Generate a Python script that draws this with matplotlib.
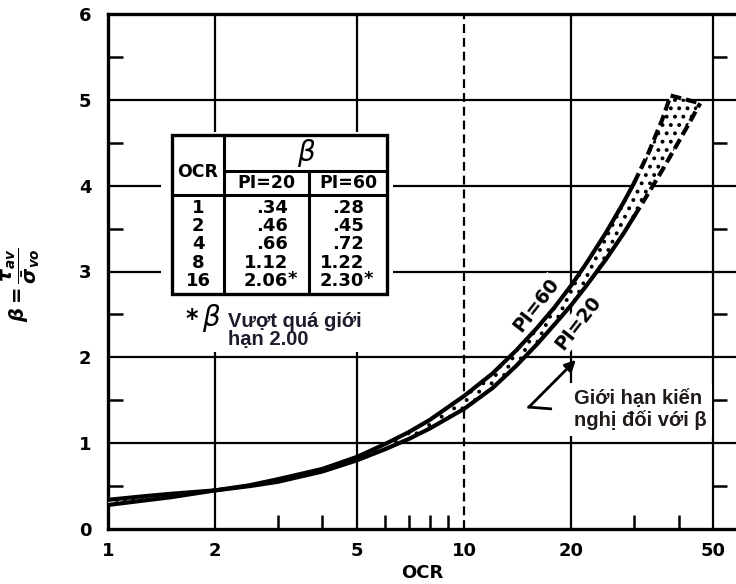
import numpy as np
import matplotlib
matplotlib.use("Agg")
import matplotlib.pyplot as plt
from matplotlib.patches import Rectangle
from matplotlib.ticker import FixedLocator, FixedFormatter, NullFormatter

# ---- curve readings: cyclic stress ratio beta versus OCR ----
ocr_pi60 = [1, 1.25, 1.5, 2, 2.5, 3, 4, 5, 6, 7, 8, 10, 12, 14, 16, 18, 20,
            22, 25, 28, 30, 33, 36, 38]
beta_pi60 = [0.28, 0.33, 0.37, 0.45, 0.51, 0.58, 0.70, 0.84, 0.99, 1.13, 1.27,
             1.55, 1.81, 2.08, 2.34, 2.59, 2.84, 3.09, 3.45, 3.80, 4.03, 4.39,
             4.77, 5.05]
ocr_pi20 = [1, 1.25, 1.5, 2, 2.5, 3, 4, 5, 6, 7, 8, 10, 12, 14, 16, 18, 20,
            22, 25, 28, 30, 33, 36, 40, 43, 46]
beta_pi20 = [0.34, 0.38, 0.41, 0.45, 0.50, 0.55, 0.67, 0.80, 0.93, 1.05, 1.17,
             1.40, 1.64, 1.90, 2.15, 2.39, 2.61, 2.83, 3.14, 3.44, 3.64, 3.92,
             4.18, 4.51, 4.74, 4.96]
extrap_from = 30          # curves drawn dashed beyond this OCR

# ---- tabulated values ----
table_ocr = [1, 2, 4, 8, 16]
table_pi20 = [0.34, 0.46, 0.66, 1.12, 2.06]
table_pi60 = [0.28, 0.45, 0.72, 1.22, 2.30]
beta_limit = 2.00

# ---- axes ticks ----
x_major = [1, 2, 5, 10, 20, 50]
x_minor = [3, 4, 6, 7, 8, 9, 30, 40]
y_major = [0, 1, 2, 3, 4, 5, 6]
y_minor = [0.5, 1.5, 2.5, 3.5, 4.5, 5.5]

plt.rcParams["font.family"] = ["DejaVu Sans"]
plt.rcParams["font.weight"] = "bold"
plt.rcParams["axes.labelweight"] = "bold"
plt.rcParams["hatch.linewidth"] = 1.6

W, H = 736, 584
fig = plt.figure(figsize=(W / 100, H / 100), dpi=100)


def rect(x0, y0, x1, y1):
    """Figure-fraction rectangle from pixel corners (top-left origin)."""
    return [x0 / W, 1 - y1 / H, (x1 - x0) / W, (y1 - y0) / H]


ax = fig.add_axes(rect(108, 14, 736, 529))
ax.set_xscale("log")
ax.set_xlim(1, 58)
ax.set_ylim(0, 6)

for side in ("left", "top", "bottom"):
    ax.spines[side].set_linewidth(2.4)
ax.spines["right"].set_visible(False)

# grid
for v in x_major[1:]:
    ax.axvline(v, color="k", lw=1.6, zorder=1,
               ls=(0, (4, 2.2)) if v == 10 else "-")
for v in y_major[1:-1]:
    ax.axhline(v, color="k", lw=1.6, zorder=1)

ax.xaxis.set_major_locator(FixedLocator(x_major))
ax.xaxis.set_major_formatter(FixedFormatter([str(v) for v in x_major]))
ax.xaxis.set_minor_locator(FixedLocator(x_minor))
ax.xaxis.set_minor_formatter(NullFormatter())
ax.yaxis.set_major_locator(FixedLocator(y_major))
ax.yaxis.set_minor_locator(FixedLocator(y_minor))
ax.yaxis.set_minor_formatter(NullFormatter())
ax.tick_params(axis="both", which="major", length=0, labelsize=13)
ax.tick_params(axis="x", which="major", pad=9)
ax.tick_params(axis="y", which="major", pad=12)
ax.tick_params(axis="x", which="minor", direction="in", length=10, width=1.8)
ax.tick_params(axis="y", which="minor", direction="in", length=11, width=1.8)

# tick marks along the OCR = 50 line
pos50 = ax.transAxes.inverted().transform(ax.transData.transform((50, 0)))[0]
sec = ax.secondary_yaxis(pos50)
sec.set_yticks(y_minor)
sec.tick_params(length=10, width=1.8, labelright=False, labelleft=False)
for s in sec.spines.values():
    s.set_visible(False)

ax.set_xlabel("OCR", fontsize=13, labelpad=3)
ax.set_ylabel(r"$\beta = \dfrac{\tau_{av}}{\bar{\sigma}_{vo}}$", fontsize=14)
ax.yaxis.set_label_coords(-0.105, 0.474)

# stippled band between the two curves
o60, b60 = np.asarray(ocr_pi60), np.asarray(beta_pi60)
o20, b20 = np.asarray(ocr_pi20), np.asarray(beta_pi20)
ax.fill(np.r_[o60, o20[::-1]], np.r_[b60, b20[::-1]], facecolor="white",
        edgecolor="black", lw=0, hatch="..", zorder=3)

for o, b in ((o60, b60), (o20, b20)):
    solid = o <= extrap_from
    dashed = o >= extrap_from
    ax.plot(o[solid], b[solid], color="k", lw=3.0, zorder=4,
            solid_capstyle="round", solid_joinstyle="round")
    ax.plot(o[dashed], b[dashed], color="k", lw=3.0, zorder=4,
            ls=(0, (2.6, 1.2)))
ax.plot([o60[-1], o20[-1]], [b60[-1], b20[-1]], color="k", lw=3.0, zorder=4,
        ls=(0, (2.6, 1.2)))

lbl_box = dict(boxstyle="square,pad=0.1", fc="white", ec="none")
ax.text(15.9, 2.61, "PI=60", rotation=52, ha="center", va="center",
        fontsize=13.5, zorder=5, bbox=lbl_box)
ax.text(20.9, 2.40, "PI=20", rotation=52, ha="center", va="center",
        fontsize=13.5, zorder=5, bbox=lbl_box)

# recommended limit annotation
ax.text(20.3, 1.39, "Giới hạn kiến\nnghị đối với β", ha="left", va="center",
        family="Liberation Sans", fontweight="bold", fontsize=14.5,
        color="#201a18", linespacing=1.15, zorder=5,
        bbox=dict(boxstyle="square,pad=0.3", fc="white", ec="none"))
ax.plot([17.5, 15.2], [1.40, 1.42], color="k", lw=2.0, zorder=6)
ax.annotate("", xy=(20.6, 1.97), xytext=(15.2, 1.42), zorder=6,
            arrowprops=dict(arrowstyle="-|>", color="k", lw=2.0,
                            mutation_scale=16, shrinkA=0, shrinkB=0))

# ---- table panel ----
tab = fig.add_axes(rect(161, 132, 393, 352), zorder=5)
tab.set_xlim(161, 393)
tab.set_ylim(352, 132)
tab.set_facecolor("white")
tab.set_xticks([])
tab.set_yticks([])
for s in tab.spines.values():
    s.set_visible(False)

xl, xc1, xc2, xr = 172, 224, 309, 387
yt, yb1, yb2, yb = 135, 171, 195, 294
tab.add_patch(Rectangle((xl, yt), xr - xl, yb - yt, fill=False, lw=2.4,
                        ec="k"))
tab.plot([xc1, xc1], [yt, yb], color="k", lw=2.2)
tab.plot([xc1, xr], [yb1, yb1], color="k", lw=2.2)
tab.plot([xl, xr], [yb2, yb2], color="k", lw=2.2)
tab.plot([xc2, xc2], [yb1, yb], color="k", lw=2.2)

tab.text((xl + xc1) / 2, 172, "OCR", ha="center", va="center", fontsize=12.5)
tab.text((xc1 + xr) / 2, 153, "β", ha="center", va="center", fontsize=20,
         fontstyle="italic", fontweight="normal")
tab.text((xc1 + xc2) / 2, 183.5, "PI=20", ha="center", va="center",
         fontsize=12.5)
tab.text((xc2 + xr) / 2, 183.5, "PI=60", ha="center", va="center",
         fontsize=12.5)


def fmt(v):
    s = f"{v:.2f}"
    return s[1:] if s.startswith("0") else s


row_y0, row_dy = 208, 18.2
for i, (oc, v20, v60) in enumerate(zip(table_ocr, table_pi20, table_pi60)):
    y = row_y0 + i * row_dy
    tab.text((xl + xc1) / 2, y, str(oc), ha="center", va="center",
             fontsize=13)
    for v, xe in ((v20, 288), (v60, 364)):
        tab.text(xe, y, fmt(v), ha="right", va="center", fontsize=13)
        if v > beta_limit:
            tab.text(xe, y - 2, "*", ha="left", va="center", fontsize=13)

# footnote
tab.text(191.5, 319, "*", ha="center", va="center", fontsize=17)
tab.text(211, 326, "β", ha="center", va="baseline", fontsize=20,
         fontstyle="italic", fontweight="normal")
tab.text(228, 327, "Vượt quá giới", ha="left", va="baseline",
         family="Liberation Sans", fontweight="bold", fontsize=14.5,
         color="#1c1c2c")
tab.text(228, 345, "hạn 2.00", ha="left", va="baseline",
         family="Liberation Sans", fontweight="bold", fontsize=14.5,
         color="#1c1c2c")

fig.savefig("out.png", dpi=100)
